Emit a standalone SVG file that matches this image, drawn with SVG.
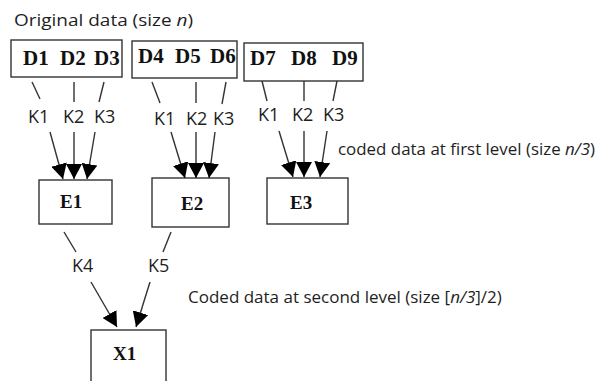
<svg xmlns="http://www.w3.org/2000/svg" width="597" height="381" viewBox="0 0 597 381">
  <style>
    .box { fill: #ffffff; stroke: #333333; stroke-width: 1.4; }
    .node { font-family: "Liberation Serif", "Times New Roman", serif; font-weight: bold; font-size: 19px; fill: #111111; }
    .src { font-size: 21px; }
    .key { font-family: "Open Sans", "Liberation Sans", Arial, sans-serif; font-size: 18px; fill: #1e1e1e; }
    .note { font-family: "Open Sans", "Liberation Sans", Arial, sans-serif; font-size: 17px; fill: #1e1e1e; }
    .tick { stroke: #333333; stroke-width: 1.4; fill: none; }
    .arrow { stroke: #333333; stroke-width: 1.4; fill: none; marker-end: url(#head); }
  </style>
  <defs>
    <marker id="head" viewBox="0 0 15 16" refX="15" refY="8" markerWidth="15" markerHeight="16" markerUnits="userSpaceOnUse" orient="auto">
      <path d="M0,0 L15,8 L0,16 Z" fill="#000000"/>
    </marker>
  </defs>

  <rect width="597" height="381" fill="#ffffff"/>

  <!-- captions -->
  <text class="note" x="14" y="26" font-size="19" textLength="179" lengthAdjust="spacingAndGlyphs">Original data (size <tspan font-style="italic">n</tspan>)</text>
  <text class="note" x="338" y="155" textLength="257" lengthAdjust="spacingAndGlyphs">coded data at first level (size <tspan font-style="italic">n/3</tspan>)</text>
  <text class="note" x="188" y="303" font-size="16">Coded data at second level (size [<tspan font-style="italic">n/3</tspan>]/2)</text>

  <!-- source blocks -->
  <g id="D123">
    <rect class="box" x="11" y="40" width="111" height="37"/>
    <text class="node src" x="23" y="65">D1</text>
    <text class="node src" x="60" y="65">D2</text>
    <text class="node src" x="94" y="65">D3</text>
  </g>
  <g id="D456">
    <rect class="box" x="132" y="41" width="105" height="37"/>
    <text class="node src" x="138" y="63">D4</text>
    <text class="node src" x="175" y="63">D5</text>
    <text class="node src" x="210" y="63">D6</text>
  </g>
  <g id="D789">
    <rect class="box" x="244" y="43" width="119" height="38"/>
    <text class="node src" x="250" y="65">D7</text>
    <text class="node src" x="291" y="65">D8</text>
    <text class="node src" x="332" y="65">D9</text>
  </g>

  <!-- first-level encoders -->
  <g id="E1">
    <rect class="box" x="39" y="180" width="73" height="44"/>
    <text class="node" x="60" y="208">E1</text>
  </g>
  <g id="E2">
    <rect class="box" x="152" y="178" width="77" height="49"/>
    <text class="node" x="181" y="210">E2</text>
  </g>
  <g id="E3">
    <rect class="box" x="267" y="178" width="81" height="46"/>
    <text class="node" x="290" y="209">E3</text>
  </g>

  <!-- second-level encoder -->
  <g id="X1">
    <rect class="box" x="91" y="330" width="75" height="70"/>
    <text class="node" x="113" y="360">X1</text>
  </g>

  <!-- connectors with key labels -->
  <g id="connectors">
    <!-- group 1 -->
    <line class="tick" x1="32" y1="82" x2="40" y2="99"/>
    <line class="tick" x1="74" y1="82" x2="74" y2="102"/>
    <line class="tick" x1="104" y1="82" x2="99" y2="102"/>
    <text class="key" x="28" y="123">K1</text>
    <text class="key" x="63" y="123">K2</text>
    <text class="key" x="94" y="123">K3</text>
    <line class="arrow" x1="50" y1="132" x2="63" y2="179"/>
    <line class="arrow" x1="74" y1="132" x2="74" y2="179"/>
    <line class="arrow" x1="95" y1="132" x2="87" y2="179"/>

    <!-- group 2 -->
    <line class="tick" x1="152" y1="82" x2="160" y2="103"/>
    <line class="tick" x1="196" y1="82" x2="196" y2="103"/>
    <line class="tick" x1="226" y1="82" x2="222" y2="104"/>
    <text class="key" x="154" y="125">K1</text>
    <text class="key" x="186" y="125">K2</text>
    <text class="key" x="213" y="125">K3</text>
    <line class="arrow" x1="171" y1="132" x2="185" y2="178"/>
    <line class="arrow" x1="196" y1="132" x2="196" y2="178"/>
    <line class="arrow" x1="215" y1="132" x2="209" y2="178"/>

    <!-- group 3 -->
    <line class="tick" x1="262" y1="81" x2="267" y2="101"/>
    <line class="tick" x1="304" y1="81" x2="304" y2="101"/>
    <line class="tick" x1="337" y1="81" x2="333" y2="101"/>
    <text class="key" x="258" y="121">K1</text>
    <text class="key" x="292" y="121">K2</text>
    <text class="key" x="323" y="121">K3</text>
    <line class="arrow" x1="279" y1="131" x2="293" y2="177"/>
    <line class="arrow" x1="304" y1="131" x2="304" y2="177"/>
    <line class="arrow" x1="327" y1="131" x2="320" y2="177"/>

    <!-- second level -->
    <line class="tick" x1="64" y1="232" x2="76" y2="252"/>
    <line class="tick" x1="171" y1="232" x2="163" y2="252"/>
    <text class="key" x="72" y="272">K4</text>
    <text class="key" x="148" y="272">K5</text>
    <line class="arrow" x1="91" y1="282" x2="117" y2="327"/>
    <line class="arrow" x1="150" y1="282" x2="136" y2="327"/>
  </g>
</svg>
